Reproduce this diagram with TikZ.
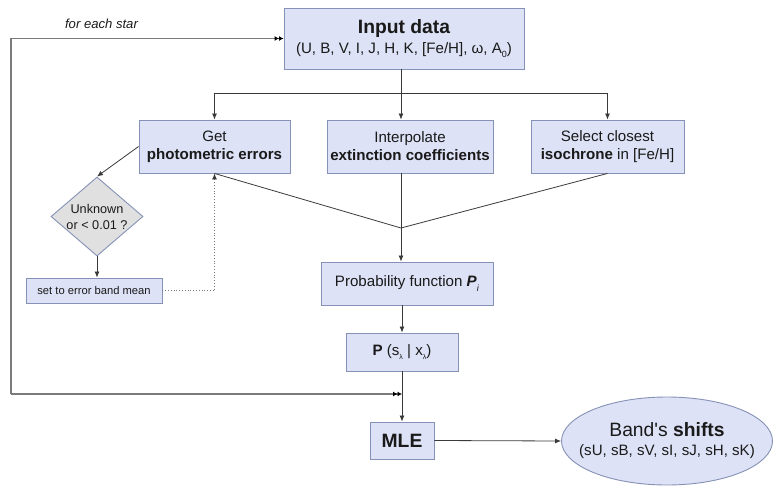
\documentclass[tikz,border=0pt]{standalone}
\usepackage{fontspec}
\setmainfont{Liberation Sans}
\usetikzlibrary{arrows.meta,shapes.geometric,calc}
\definecolor{boxfill}{HTML}{DDE2F6}
\definecolor{boxdraw}{HTML}{8592B5}
\definecolor{diafill}{HTML}{E0E0E0}
\definecolor{ink}{HTML}{1A1A1A}
\definecolor{conncol}{HTML}{3A3A3A}
\definecolor{loopc}{HTML}{7A7A7A}
\tikzset{
  box/.style={draw=boxdraw, fill=boxfill, line width=0.9pt, inner sep=0pt, align=center, text=ink, font=\fontsize{15.1}{18}\selectfont},
  conn/.style={draw=conncol, line width=0.8pt},
  arr/.style={conn, -{Latex[length=6pt,width=5pt,color=conncol]}},
  dbl/.style={draw=loopc, line width=1.1pt, -{Latex[length=4.5pt,width=5pt,color=black]Latex[length=4.5pt,width=5pt,color=black]}},
}
\begin{document}
\begin{tikzpicture}[x=1pt,y=-1pt]
\useasboundingbox (0,0) rectangle (774,487);
% nodes
\node[box, minimum width=240pt, minimum height=61pt] (input) at (404,38.5)
  {{\fontsize{19.3}{21}\selectfont\bfseries Input data}\\[2pt](U, B, V, I, J, H, K, [Fe/H], ω, A\raisebox{-0.4ex}{\fontsize{9}{9}\selectfont 0})};
\node[box, minimum width=151pt, minimum height=53pt] (get) at (214.5,146.5) {Get\\\textbf{photometric errors}};
\node[box, minimum width=166pt, minimum height=53pt] (interp) at (410,146.5) {Interpolate\\\textbf{extinction coefficients}};
\node[box, minimum width=153pt, minimum height=53pt] (select) at (607.5,146.5) {Select closest\\\textbf{isochrone} in [Fe/H]};
\node[box, minimum width=172pt, minimum height=43pt] (prob) at (407,283.5)
  {Probability function \textbf{\textit{P}}\raisebox{-0.6ex}{\fontsize{9}{9}\selectfont\textit{i}}};
\node[box, minimum width=112pt, minimum height=38pt] (pfun) at (402,352)
  {\textbf{P} (s\raisebox{-0.5ex}{\fontsize{7}{7}\selectfont λ} | x\raisebox{-0.5ex}{\fontsize{7}{7}\selectfont λ})};
\node[box, minimum width=64pt, minimum height=37pt, font=\fontsize{19.3}{22}\selectfont\bfseries] (mle) at (402,440.5) {MLE};
\node[box, ellipse, minimum width=211pt, minimum height=88pt, inner xsep=-40pt, inner ysep=-10pt] (shifts) at (667,441)
  {{\fontsize{19.3}{22}\selectfont Band\textquotesingle s \textbf{shifts}}\\[1pt](sU, sB, sV, sI, sJ, sH, sK)};
\node[draw=boxdraw, fill=diafill, line width=0.9pt, diamond, minimum width=92pt, minimum height=79pt,
      inner xsep=-20pt, inner ysep=-8pt, align=center, text=ink, font=\fontsize{12.7}{16}\selectfont] (dia) at (97,216.5)
  {Unknown\\or < 0.01 ?};
\node[box, minimum width=136pt, minimum height=25pt, font=\fontsize{11.2}{13}\selectfont] (setb) at (94,290.5) {set to error band mean};
\node[font=\fontsize{13.1}{15}\selectfont\itshape, text=ink, inner sep=0pt] (lbl) at (101.5,24) {for each star};
% coordinates
\coordinate (split) at (401,93);
\coordinate (merge) at (401,228);
\coordinate (corner) at (11,394);
% connectors
\draw[conn] (split |- input.south) -- (split);
\draw[conn] (get.north |- split) -- (select.north |- split);
\draw[arr] (get.north |- split) -- (get.north);
\draw[arr] (split) -- (split |- interp.north);
\draw[arr] (select.north |- split) -- (select.north);
\draw[conn] (get.south) -- (merge);
\draw[conn] (select.south) -- (merge);
\draw[conn] (merge |- interp.south) -- (merge);
\draw[arr] (merge) -- (merge |- prob.north);
\draw[arr] (pfun.north |- prob.south) -- (pfun.north);
\draw[arr] (pfun.south) -- (mle.north);
\draw[arr] (mle.east) -- (shifts.west);
\draw[arr] (get.west) -- (dia.north);
\draw[arr] (dia.south) -- (dia.south |- setb.north);
\draw[arr, dotted, draw=loopc] (setb.east) -| (get.south);
\draw[dbl] (corner) -- (corner -| mle.north);
\draw[dbl] (corner) |- (input.west);
\end{tikzpicture}
\end{document}
